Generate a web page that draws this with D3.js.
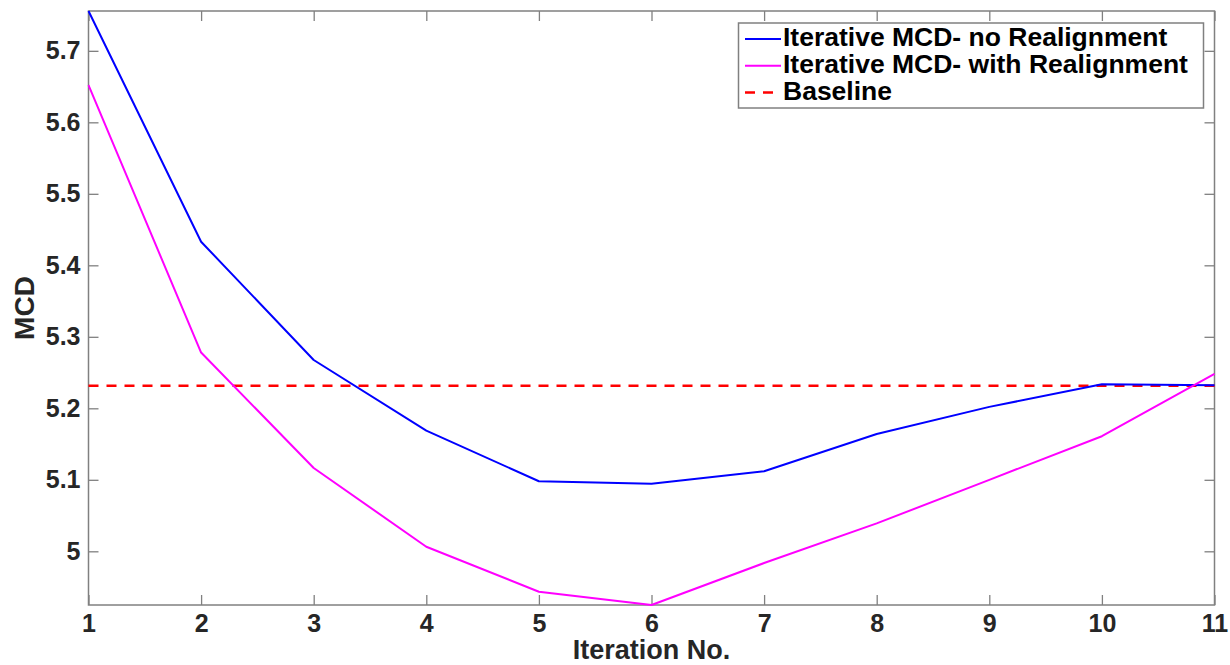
<!DOCTYPE html>
<html>
<head>
<meta charset="utf-8">
<script src="https://cdn.jsdelivr.net/npm/d3@7"></script>
<style>
  html, body { margin: 0; padding: 0; background: #fff; }
  svg { display: block; }
  text { font-family: "Liberation Sans", Arial, Helvetica, sans-serif; font-weight: bold; }
</style>
</head>
<body>
<svg id="chart" width="1230" height="665"></svg>
<script>
// ---- data ----
const iterations = [1, 2, 3, 4, 5, 6, 7, 8, 9, 10, 11];
const noRealignment = [5.7557, 5.433, 5.2676, 5.1687, 5.098, 5.0946, 5.112, 5.164, 5.202, 5.2336, 5.2322];
const withRealignment = [5.652, 5.278, 5.1165, 5.0064, 4.9435, 4.9249, 4.9836, 5.039, 5.100, 5.161, 5.248];
const baselineValue = 5.2316;
const xTickValues = [1, 2, 3, 4, 5, 6, 7, 8, 9, 10, 11];
const yTickValues = [5, 5.1, 5.2, 5.3, 5.4, 5.5, 5.6, 5.7];
const seriesNames = ["Iterative MCD- no Realignment", "Iterative MCD- with Realignment", "Baseline"];
const xLabel = "Iteration No.";
const yLabel = "MCD";

// ---- layout ----
const plot = { left: 88.5, right: 1214.5, top: 11, bottom: 605 };
const axisColor = "#808080";
const labelColor = "#262626";

const svg = d3.select("#chart");
svg.append("rect").attr("width", 1230).attr("height", 665).attr("fill", "#fff");

const x = d3.scaleLinear()
  .domain(d3.extent(iterations))
  .range([plot.left, plot.right]);
const allVals = noRealignment.concat(withRealignment);
const y = d3.scaleLinear()
  .domain(d3.extent(allVals))
  .range([plot.bottom, plot.top]);

const fmt = d => String(+d.toFixed(1));
const tickLen = 10;

function styleAxis(g, showLabels) {
  g.select(".domain").remove();
  g.selectAll(".tick line").attr("stroke", axisColor).attr("stroke-width", 1.3);
  g.selectAll(".tick text")
    .attr("fill", labelColor)
    .style("font-size", "25px")
    .style("display", showLabels ? null : "none");
}

// bottom axis
svg.append("g")
  .attr("transform", `translate(0,${plot.bottom})`)
  .call(d3.axisBottom(x).tickValues(xTickValues).tickSize(-tickLen).tickPadding(9).tickFormat(d3.format("d")))
  .call(g => styleAxis(g, true));
// top axis
svg.append("g")
  .attr("transform", `translate(0,${plot.top})`)
  .call(d3.axisTop(x).tickValues(xTickValues).tickSize(-tickLen))
  .call(g => styleAxis(g, false));
// left axis
svg.append("g")
  .attr("transform", `translate(${plot.left},0)`)
  .call(d3.axisLeft(y).tickValues(yTickValues).tickSize(-tickLen).tickPadding(8).tickFormat(fmt))
  .call(g => styleAxis(g, true));
// right axis
svg.append("g")
  .attr("transform", `translate(${plot.right},0)`)
  .call(d3.axisRight(y).tickValues(yTickValues).tickSize(-tickLen))
  .call(g => styleAxis(g, false));

// box
svg.append("rect")
  .attr("x", plot.left).attr("y", plot.top)
  .attr("width", plot.right - plot.left).attr("height", plot.bottom - plot.top)
  .attr("fill", "none").attr("stroke", axisColor).attr("stroke-width", 1.5);

// lines
const line = d3.line().x((d, i) => x(iterations[i])).y(d => y(d));

svg.append("path")
  .datum(iterations.map(() => baselineValue))
  .attr("d", line)
  .attr("fill", "none").attr("stroke", "#ff0000").attr("stroke-width", 2.5)
  .attr("stroke-dasharray", "10,8");

svg.append("path")
  .datum(noRealignment)
  .attr("d", line)
  .attr("fill", "none").attr("stroke", "#0000ff").attr("stroke-width", 2)
  .attr("stroke-linejoin", "round");

svg.append("path")
  .datum(withRealignment)
  .attr("d", line)
  .attr("fill", "none").attr("stroke", "#ff00ff").attr("stroke-width", 2)
  .attr("stroke-linejoin", "round");

// axis labels
svg.append("text")
  .attr("x", (plot.left + plot.right) / 2).attr("y", 659)
  .attr("text-anchor", "middle")
  .attr("fill", labelColor)
  .style("font-size", "27px")
  .text(xLabel);

svg.append("text")
  .attr("transform", `translate(34,${(plot.top + plot.bottom) / 2}) rotate(-90)`)
  .attr("text-anchor", "middle")
  .attr("fill", labelColor)
  .style("font-size", "28px")
  .text(yLabel);

// legend
const legend = svg.append("g");
legend.append("rect")
  .attr("x", 738.5).attr("y", 23).attr("width", 465).attr("height", 85)
  .attr("fill", "#fff").attr("stroke", axisColor).attr("stroke-width", 1.5);
const legendItems = [
  { name: seriesNames[0], color: "#0000ff", dash: null, w: 2 },
  { name: seriesNames[1], color: "#ff00ff", dash: null, w: 2 },
  { name: seriesNames[2], color: "#ff0000", dash: "10,8", w: 2.5 }
];
legendItems.forEach((it, i) => {
  const cy = 39 + i * 26.8;
  legend.append("line")
    .attr("x1", 745).attr("x2", 781).attr("y1", cy).attr("y2", cy)
    .attr("stroke", it.color).attr("stroke-width", it.w)
    .attr("stroke-dasharray", it.dash);
  legend.append("text")
    .attr("x", 783).attr("y", cy + 7)
    .attr("fill", "#000")
    .style("font-size", "26.5px")
    .text(it.name);
});
</script>
</body>
</html>
